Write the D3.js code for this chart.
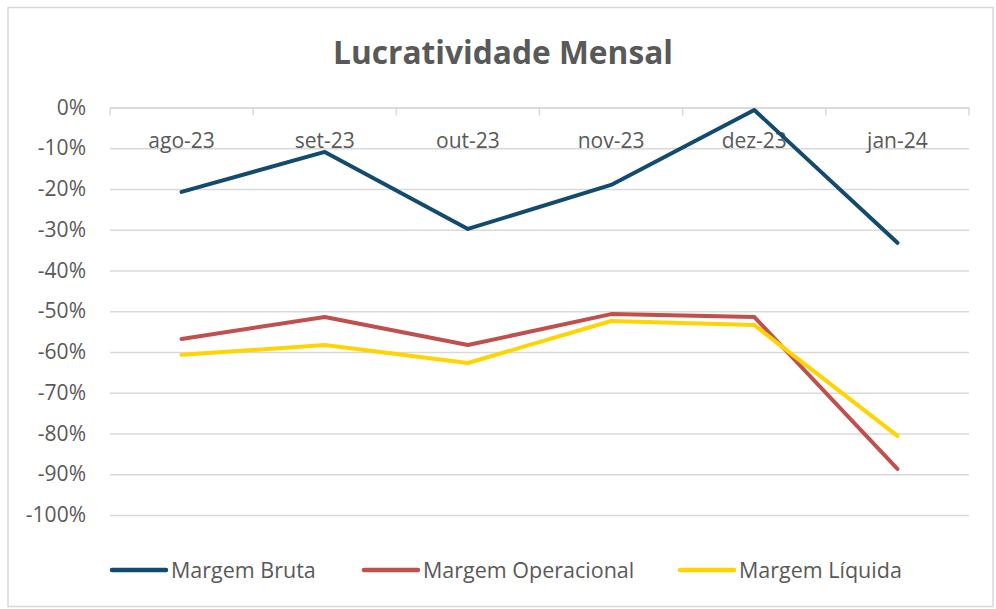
<!DOCTYPE html>
<html>
<head>
<meta charset="utf-8">
<script src="https://cdn.jsdelivr.net/npm/d3@7"></script>
<style>
  body { margin: 0; background: #fff; }
  svg { display: block; font-family: "Open Sans", sans-serif; }
</style>
</head>
<body>
<svg width="996" height="609"></svg>
<script>
const months = ["ago-23", "set-23", "out-23", "nov-23", "dez-23", "jan-24"];
const margemBruta = [-0.207, -0.109, -0.298, -0.19, -0.006, -0.332];
const margemOperacional = [-0.568, -0.514, -0.583, -0.507, -0.514, -0.887];
const margemLiquida = [-0.607, -0.583, -0.627, -0.524, -0.534, -0.806];
const yTicks = [0, -0.1, -0.2, -0.3, -0.4, -0.5, -0.6, -0.7, -0.8, -0.9, -1];

const series = [
  { name: "Margem Bruta", values: margemBruta, color: "#134b6e" },
  { name: "Margem Operacional", values: margemOperacional, color: "#c0504d" },
  { name: "Margem Líquida", values: margemLiquida, color: "#ffd400" }
];

const svg = d3.select("svg");
const plotLeft = 110, plotRight = 969, plotTop = 107.5, plotBottom = 515;

// chart area border
svg.append("rect")
  .attr("x", 8).attr("y", 7.5)
  .attr("width", 985).attr("height", 599)
  .attr("fill", "none").attr("stroke", "#d9d9d9").attr("stroke-width", 1.5);

svg.append("text")
  .attr("x", 503).attr("y", 64)
  .attr("text-anchor", "middle")
  .attr("font-size", 32).attr("font-weight", "bold")
  .attr("fill", "#595959")
  .attr("textLength", 340).attr("lengthAdjust", "spacingAndGlyphs")
  .text("Lucratividade Mensal");

const x = d3.scaleBand().domain(months).range([plotLeft, plotRight]);
const y = d3.scaleLinear().domain([-1, 0]).range([plotBottom, plotTop]);

// gridlines + y labels
const yAxis = svg.append("g")
  .attr("transform", `translate(${plotLeft},0)`)
  .call(d3.axisLeft(y).tickValues(yTicks).tickSize(-(plotRight - plotLeft))
    .tickFormat(d3.format(".0%")).tickPadding(24));
yAxis.select(".domain").remove();
yAxis.selectAll(".tick line").attr("stroke", "#d9d9d9").attr("stroke-width", 1.5);
yAxis.selectAll(".tick text")
  .attr("font-size", 21).attr("fill", "#595959")
  .attr("font-family", "Open Sans, sans-serif")
  .text(d => d3.format(".0%")(d).replace("−", "-"));

// category axis sitting on 0%, ticks pointing down
const xAxis = svg.append("g")
  .attr("transform", `translate(0,${y(0)})`)
  .call(d3.axisBottom(x).tickSize(0).tickPadding(26));
xAxis.select(".domain").attr("stroke", "#d9d9d9").attr("stroke-width", 1.5);
xAxis.selectAll(".tick text")
  .attr("font-size", 21).attr("fill", "#595959")
  .attr("font-family", "Open Sans, sans-serif");
const bounds = months.map(m => x(m)).concat([plotRight]);
xAxis.selectAll("line.bound").data(bounds).enter()
  .append("line").attr("class", "bound")
  .attr("x1", d => d).attr("x2", d => d)
  .attr("y1", 0).attr("y2", 8)
  .attr("stroke", "#d9d9d9").attr("stroke-width", 1.5);

const line = d3.line()
  .x((d, i) => x(months[i]) + x.bandwidth() / 2)
  .y(d => y(d));

svg.append("g").selectAll("path")
  .data(series).enter()
  .append("path")
  .attr("d", d => line(d.values))
  .attr("fill", "none")
  .attr("stroke", d => d.color)
  .attr("stroke-width", 4)
  .attr("stroke-linejoin", "round")
  .attr("stroke-linecap", "round");

// legend
const legendX = [110, 362, 678];
const legend = svg.append("g").selectAll("g")
  .data(series).enter()
  .append("g")
  .attr("transform", (d, i) => `translate(${legendX[i]},570)`);
legend.append("line")
  .attr("x1", 2).attr("x2", 56)
  .attr("stroke", d => d.color).attr("stroke-width", 4.5)
  .attr("stroke-linecap", "round");
legend.append("text")
  .attr("x", 61).attr("dy", "0.36em")
  .attr("font-size", 21.5).attr("fill", "#595959")
  .text(d => d.name);
</script>
</body>
</html>
